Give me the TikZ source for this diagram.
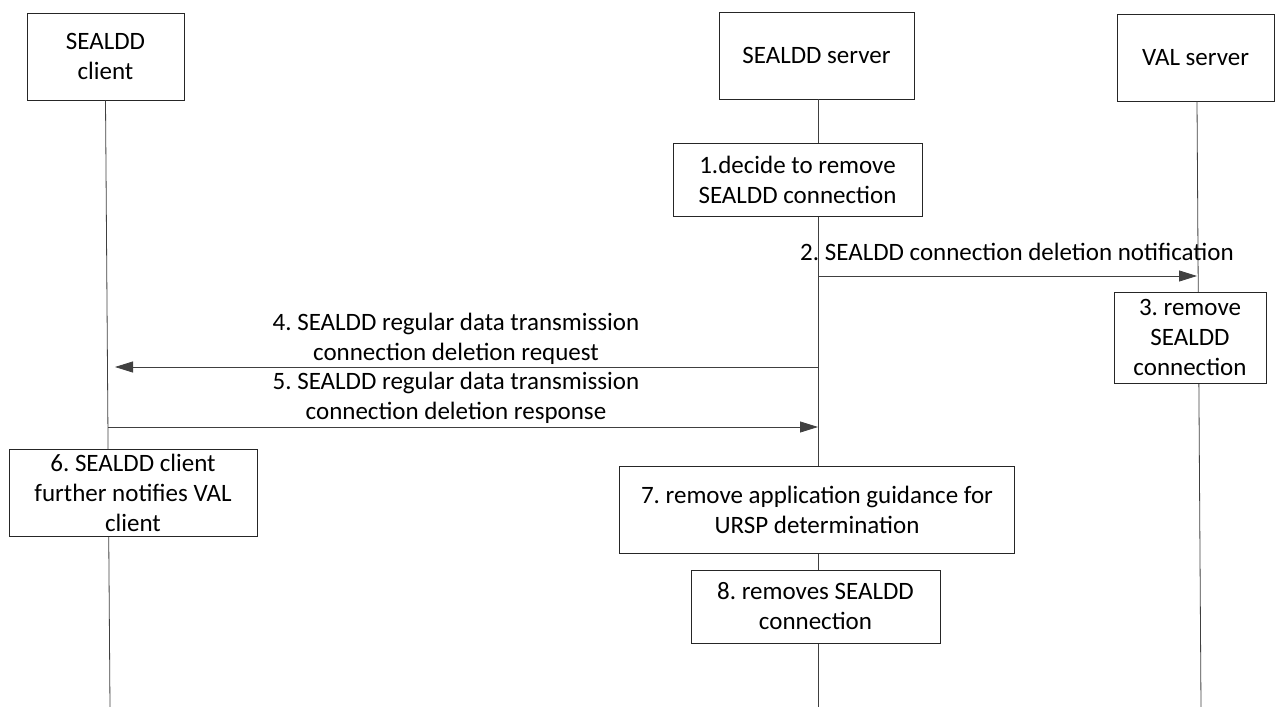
\documentclass[tikz,border=0pt]{standalone}
\usepackage{fontspec}
\setmainfont{Carlito}
\usetikzlibrary{arrows.meta}
\begin{document}
\frenchspacing
\begin{tikzpicture}[x=1pt,y=-1pt,
  every node/.style={font=\fontsize{25}{30}\selectfont},
  ent/.style={draw=black!85,line width=0.9pt,fill=white,align=center,inner sep=0pt},
  life/.style={draw=black!75,line width=0.8pt},
  msg/.style={draw=black!75,line width=0.8pt,-{Triangle[length=18pt,width=11pt]}},
  lbl/.style={align=center,inner sep=0pt}]
\useasboundingbox (0,0) rectangle (1275,707);
% lifeline bottoms
\coordinate (cb) at (110,707);
\coordinate (sb) at (818,707);
\coordinate (vb) at (1201,707);
% participants
\node[ent,minimum width=157pt,minimum height=87pt] (client) at (105.5,56.5) {SEALDD\\client};
\node[ent,minimum width=195pt,minimum height=87pt] (server) at (816.5,55.5) {SEALDD server};
\node[ent,minimum width=157pt,minimum height=87pt] (val) at (1195.5,57.5) {VAL server};
% lifelines
\draw[life] (client.south) -- (cb);
\draw[life] (server.south -| sb) -- (sb);
\draw[life] (val.south -| 1197,0) -- (vb);
% steps
\node[ent,minimum width=249pt,minimum height=73pt] (s1) at (797.5,179.5) {1.decide to remove\\SEALDD connection};
\coordinate (s2a) at (818,276);
\coordinate (s2b) at (1197,276);
\draw[msg] (s2a) -- (s2b);
\node[lbl] (l2) at (1017,252) {2. SEALDD connection deletion notification};
\node[ent,minimum width=152pt,minimum height=91pt] (s3) at (1190,337.5) {3. remove\\SEALDD\\connection};
\coordinate (s4a) at (818,367);
\coordinate (s4b) at (115,367);
\draw[msg] (s4a) -- (s4b);
\node[lbl] (l4) at (456,339) {4. SEALDD regular data transmission\\connection deletion request};
\coordinate (s5a) at (108,427);
\coordinate (s5b) at (818,427);
\draw[msg] (s5a) -- (s5b);
\node[lbl] (l5) at (456,398) {5. SEALDD regular data transmission\\connection deletion response};
\node[ent,minimum width=248pt,minimum height=87pt] (s6) at (133,492.5) {6. SEALDD client\\further notifies VAL\\client};
\node[ent,minimum width=395pt,minimum height=87pt] (s7) at (817,509.5) {7. remove application guidance for\\URSP determination};
\node[ent,minimum width=249pt,minimum height=73pt] (s8) at (815.5,606.5) {8. removes SEALDD\\connection};
\end{tikzpicture}
\end{document}
